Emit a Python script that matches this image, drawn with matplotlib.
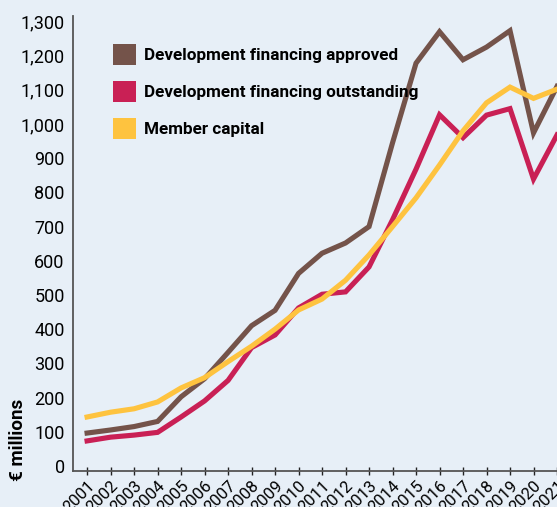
import matplotlib
matplotlib.use("Agg")
import matplotlib.pyplot as plt
from matplotlib.patches import Patch

years = list(range(2001, 2022))
approved = [96, 105, 115, 130, 202, 255, 332, 410, 455, 563, 622, 652, 700,
            945, 1178, 1270, 1188, 1225, 1273, 974, 1110]
outstanding = [73, 84, 90, 98, 143, 190, 250, 346, 383, 462, 502, 509, 582,
               720, 868, 1027, 960, 1026, 1045, 839, 968]
member_capital = [143, 157, 167, 187, 228, 258, 305, 350, 400, 456, 488, 543, 617,
                  700, 784, 880, 980, 1062, 1108, 1075, 1102]
series_names = ["Development financing approved",
                "Development financing outstanding",
                "Member capital"]
colors = ["#74534a", "#c92055", "#fec33f"]

bg = "#e7eff7"
plt.rcParams['font.family'] = ['Roboto', 'DejaVu Sans']

fig = plt.figure(figsize=(5.57, 5.07), dpi=100, facecolor=bg)
ax = fig.add_axes([73 / 557, 36 / 507, 484 / 557, 455 / 507], facecolor=bg)

for vals, c in zip([approved, outstanding, member_capital], colors):
    ax.plot(years, vals, color=c, lw=3.7, solid_joinstyle='miter')

ax.set_xlim(2000.4, 2021.0)
ax.set_ylim(-15, 1316)
ax.set_yticks(range(0, 1301, 100))
ax.set_yticklabels([f"{v:,}" for v in range(0, 1301, 100)], fontsize=13)
ax.set_xticks(years)
ax.set_xticklabels([str(y) for y in years], rotation=45, ha='right',
                   rotation_mode='anchor', fontsize=12)
ax.tick_params(axis='y', length=0, pad=6)
ax.tick_params(axis='x', direction='inout', length=6, width=1, color='#222', pad=2)

for s in ['top', 'right']:
    ax.spines[s].set_visible(False)
for s in ['left', 'bottom']:
    ax.spines[s].set_color('#555')
    ax.spines[s].set_linewidth(1.3)

fig.text(18 / 557, 1 - 440 / 507, "€ millions", rotation=90, ha='center',
         va='center', fontsize=13.5, fontweight='bold')

handles = [Patch(facecolor=c, edgecolor='none') for c in colors]
leg = ax.legend(handles, series_names, loc='upper left',
                bbox_to_anchor=(0.05, 0.972), frameon=False,
                handlelength=1.4, handleheight=1.5, handletextpad=0.45,
                labelspacing=0.95, prop={'weight': 'bold', 'size': 12.3})

fig.savefig("out.png", dpi=100, facecolor=bg)
